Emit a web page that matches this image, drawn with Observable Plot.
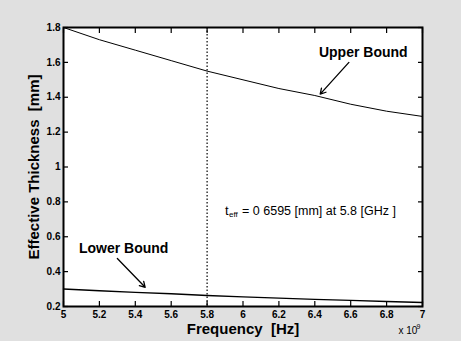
<!DOCTYPE html>
<html>
<head>
<meta charset="utf-8">
<script src="https://cdn.jsdelivr.net/npm/d3@7"></script>
<script src="https://cdn.jsdelivr.net/npm/@observablehq/plot@0.6"></script>
<style>
  html, body { margin: 0; padding: 0; background: #e0e0e0; }
  #chart { width: 461px; height: 341px; }
</style>
</head>
<body>
<div id="chart"></div>
<script>
// Frequency (x 10^9 Hz)
const freq = [5.0, 5.2, 5.4, 5.6, 5.8, 6.0, 6.2, 6.4, 6.6, 6.8, 7.0];
// Effective thickness [mm]
const upperBound = [1.80, 1.73, 1.67, 1.61, 1.55, 1.50, 1.45, 1.41, 1.36, 1.32, 1.29];
const lowerBound = [0.300, 0.290, 0.281, 0.273, 0.263, 0.255, 0.248, 0.241, 0.235, 0.229, 0.223];
const xTicks = [5, 5.2, 5.4, 5.6, 5.8, 6, 6.2, 6.4, 6.6, 6.8, 7];
const yTicks = [0.2, 0.4, 0.6, 0.8, 1, 1.2, 1.4, 1.6, 1.8];
const markerFreq = [5.8];
// Annotation labels and arrows (data coordinates)
const labels = [
  {x: 6.67, y: 1.655, text: "Upper Bound"},
  {x: 5.335, y: 0.535, text: "Lower Bound"}
];
const arrows = [
  {x1: 6.59, y1: 1.60, x2: 6.43, y2: 1.418},
  {x1: 5.30, y1: 0.475, x2: 5.455, y2: 0.31}
];
const noteX = 5.9, noteY = 0.75;
const noteRest = "= 0 6595 [mm] at 5.8 [GHz ]";

const upper = freq.map((f, i) => ({f, v: upperBound[i]}));
const lower = freq.map((f, i) => ({f, v: lowerBound[i]}));

const tickStyle = {label: null, tickFormat: () => "", tickSize: 5, stroke: "black", strokeWidth: 1.2};

const chart = Plot.plot({
  width: 461,
  height: 341,
  marginLeft: 63,
  marginRight: 39,
  marginTop: 27,
  marginBottom: 35,
  style: {fontFamily: "Arial, 'Liberation Sans', sans-serif", fontSize: "10px", background: "transparent", color: "black"},
  x: {domain: [5, 7], axis: null},
  y: {domain: [0.2, 1.8], axis: null},
  marks: [
    Plot.frame({fill: "white", stroke: null}),
    Plot.ruleX(markerFreq, {stroke: "black", strokeWidth: 1.2, strokeDasharray: "1.5,2"}),
    Plot.line(upper, {x: "f", y: "v", stroke: "black", strokeWidth: 1}),
    Plot.line(lower, {x: "f", y: "v", stroke: "black", strokeWidth: 1.4}),
    // inward tick marks on all four sides
    Plot.axisX({...tickStyle, ticks: xTicks, dy: -5}),
    Plot.axisX({...tickStyle, anchor: "top", ticks: xTicks, dy: 5}),
    Plot.axisY({...tickStyle, ticks: yTicks, dx: 5}),
    Plot.axisY({...tickStyle, anchor: "right", ticks: yTicks, dx: -5}),
    // tick labels
    Plot.axisX({ticks: xTicks, tickSize: 0, tickPadding: 4, tickFormat: d => String(d), label: null, fontWeight: "bold", fontSize: 10}),
    Plot.axisY({ticks: yTicks, tickSize: 0, tickPadding: 3, tickFormat: d => String(d), label: null, fontWeight: "bold", fontSize: 10}),
    Plot.frame({stroke: "black", strokeWidth: 2}),
    Plot.text(labels, {x: "x", y: "y", text: "text", fontSize: 14, fontWeight: "bold", textAnchor: "middle"}),
    Plot.arrow(arrows, {x1: "x1", y1: "y1", x2: "x2", y2: "y2", stroke: "black", strokeWidth: 1.3, headLength: 7}),
    Plot.text(["t"], {x: noteX, y: noteY, text: d => d, fontSize: 13, textAnchor: "start"}),
    Plot.text(["eff"], {x: noteX, y: noteY, text: d => d, fontSize: 8, textAnchor: "start", dx: 4, dy: 4}),
    Plot.text([noteRest], {x: noteX, y: noteY, text: d => d, fontSize: 12.5, textAnchor: "start", dx: 17}),
    Plot.text(["Effective Thickness  [mm]"], {frameAnchor: "left", text: d => d, rotate: -90, dx: -29, fontSize: 15, fontWeight: "bold", textAnchor: "middle"}),
    Plot.text(["Frequency  [Hz]"], {frameAnchor: "bottom", text: d => d, dy: 27, fontSize: 15, fontWeight: "bold", textAnchor: "middle"}),
    Plot.text(["x 10"], {frameAnchor: "bottom-right", text: d => d, dx: -24, dy: 27, fontSize: 10, textAnchor: "start"}),
    Plot.text(["9"], {frameAnchor: "bottom-right", text: d => d, dx: -6, dy: 22, fontSize: 7, textAnchor: "start"})
  ]
});
document.getElementById("chart").appendChild(chart);
</script>
</body>
</html>
